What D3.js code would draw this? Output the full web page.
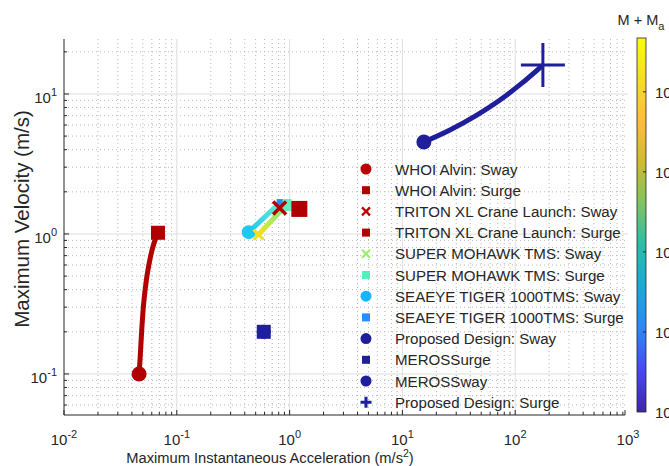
<!DOCTYPE html>
<html>
<head>
<meta charset="utf-8">
<script src="https://cdn.jsdelivr.net/npm/d3@7"></script>
<style>
  body { margin: 0; background: #fff; }
  text { font-family: "Liberation Sans", Arial, sans-serif; fill: #262626; }
</style>
</head>
<body>
<div id="chart"></div>
<script>
// ---- data ----
const xTickValues = [1e-2, 1e-1, 1e0, 1e1, 1e2, 1e3];
const yTickValues = [1e-1, 1e0, 1e1];
const cbTickValues = [1e2, 1e3, 1e4, 1e5, 1e6];

// WHOI Alvin curve (sway -> surge)
const alvinAcc = [0.0463, 0.0472, 0.0487, 0.0512, 0.0561, 0.0629, 0.0681];
const alvinVel = [0.100, 0.126, 0.196, 0.338, 0.581, 0.863, 1.02];

// Proposed design curve (sway -> surge)
const proposedAcc = [15.5, 26.4, 44.9, 73.3, 112.5, 176];
const proposedVel = [4.54, 5.53, 7.01, 9.06, 11.8, 16.1];

// SEAEYE TIGER and SUPER MOHAWK curves
const seaeyeAcc = [0.434, 0.80];
const seaeyeVel = [1.03, 1.64];
const mohawkAcc = [0.53, 0.90];
const mohawkVel = [0.99, 1.56];

// single points
const tritonSway = [0.815, 1.53];
const tritonSurge = [1.22, 1.51];
const mohawkSurge = [0.92, 1.61];
const seaeyeSurge = [0.815, 1.69];
const merosPoint = [0.59, 0.20];

const legendLabels = [
  "WHOI Alvin: Sway", "WHOI Alvin: Surge",
  "TRITON XL Crane Launch: Sway", "TRITON XL Crane Launch: Surge",
  "SUPER MOHAWK TMS: Sway", "SUPER MOHAWK TMS: Surge",
  "SEAEYE TIGER 1000TMS: Sway", "SEAEYE TIGER 1000TMS: Surge",
  "Proposed Design: Sway", "MEROSSurge", "MEROSSway", "Proposed Design: Surge"
];
const legendShapes = ["circle", "square", "x", "square", "x", "square",
  "circle", "square", "circle", "square", "circle", "plus"];
const legendColors = ["#b80000", "#b00000", "#c00000", "#b00000", "#9cf06c", "#50f0c0",
  "#19b4ff", "#2a8cff", "#1f1f9c", "#1f1f9c", "#1f1f9c", "#1f1f9c"];

const parula = ["#3e26a8", "#4748f4", "#2d87f5", "#1aa8d8", "#27bdaa", "#7cc461",
  "#cebb30", "#fdbd3c", "#f5dc2a", "#f9fb0e"];

const size = { width: 669, height: 466, left: 64, right: 628, top: 39, bottom: 415 };
const red = "#b00000", navy = "#1f1f9c";

const svg = d3.select("#chart").append("svg")
  .attr("width", size.width)
  .attr("height", size.height);

const x = d3.scaleLog().domain([1e-2, 1e3]).range([size.left, size.right]);
const y = d3.scaleLog().domain([0.0509, 24.7]).range([size.bottom, size.top]);

// ---- grid ----
const minorX = [], minorY = [];
for (let e = -2; e < 3; e++) for (let k = 2; k < 10; k++) minorX.push(k * Math.pow(10, e));
for (let e = -2; e < 2; e++) for (let k = 2; k < 10; k++) {
  const v = k * Math.pow(10, e);
  if (v > y.domain()[0] && v < y.domain()[1]) minorY.push(v);
}
const grid = svg.append("g");
grid.selectAll(".mx").data(minorX).join("line")
  .attr("x1", d => x(d)).attr("x2", d => x(d))
  .attr("y1", size.top).attr("y2", size.bottom)
  .attr("stroke", "#b8b8b8").attr("stroke-dasharray", "1,3");
grid.selectAll(".my").data(minorY).join("line")
  .attr("y1", d => y(d)).attr("y2", d => y(d))
  .attr("x1", size.left).attr("x2", size.right)
  .attr("stroke", "#b8b8b8").attr("stroke-dasharray", "1,3");
grid.selectAll(".gx").data(xTickValues.slice(1, -1)).join("line")
  .attr("x1", d => x(d)).attr("x2", d => x(d))
  .attr("y1", size.top).attr("y2", size.bottom)
  .attr("stroke", "#dedede");
grid.selectAll(".gy").data(yTickValues).join("line")
  .attr("y1", d => y(d)).attr("y2", d => y(d))
  .attr("x1", size.left).attr("x2", size.right)
  .attr("stroke", "#dedede");

// ---- axes (MATLAB style, ticks inside) ----
const axisColor = "#262626";
const ax = svg.append("g").attr("stroke", axisColor);
ax.append("line").attr("x1", size.left).attr("x2", size.right - 3)
  .attr("y1", size.bottom).attr("y2", size.bottom);
ax.append("line").attr("x1", size.left).attr("x2", size.left)
  .attr("y1", size.top).attr("y2", size.bottom);
ax.selectAll(".tx").data(xTickValues).join("line")
  .attr("x1", d => Math.min(x(d), size.right - 3)).attr("x2", d => Math.min(x(d), size.right - 3))
  .attr("y1", size.bottom).attr("y2", size.bottom - 5);
ax.selectAll(".mtx").data(minorX).join("line")
  .attr("x1", d => x(d)).attr("x2", d => x(d))
  .attr("y1", size.bottom).attr("y2", size.bottom - 3);
ax.selectAll(".ty").data(yTickValues).join("line")
  .attr("y1", d => y(d)).attr("y2", d => y(d))
  .attr("x1", size.left).attr("x2", size.left + 5);
ax.selectAll(".mty").data(minorY).join("line")
  .attr("y1", d => y(d)).attr("y2", d => y(d))
  .attr("x1", size.left).attr("x2", size.left + 3);

function powLabel(sel, d) {
  const e = Math.round(Math.log10(d));
  sel.append("tspan").text("10");
  sel.append("tspan").attr("dy", -7).attr("font-size", 11).text(e < 0 ? "-" + (-e) : e);
}
svg.selectAll(".xl").data(xTickValues).join("text")
  .attr("x", d => x(d)).attr("y", 445)
  .attr("text-anchor", "middle").attr("font-size", 15)
  .each(function (d) { powLabel(d3.select(this), d); });
svg.selectAll(".yl").data(yTickValues).join("text")
  .attr("x", 57).attr("y", d => y(d) + 9)
  .attr("text-anchor", "end").attr("font-size", 15)
  .each(function (d) { powLabel(d3.select(this), d); });

const xl = svg.append("text").attr("x", 270).attr("y", 463)
  .attr("text-anchor", "middle").attr("font-size", 14.7);
xl.append("tspan").text("Maximum Instantaneous Acceleration (m/s");
xl.append("tspan").attr("dy", -6).attr("font-size", 10.5).text("2");
xl.append("tspan").attr("dy", 6).text(")");
svg.append("text").attr("transform", "translate(29,219) rotate(-90)")
  .attr("text-anchor", "middle").attr("font-size", 20.5)
  .text("Maximum Velocity (m/s)");

// ---- curves ----
const pts = (a, b) => a.map((v, i) => [x(v), y(b[i])]);
const defs = svg.append("defs");
function grad(id, p0, p1, c0, c1) {
  const g = defs.append("linearGradient").attr("id", id)
    .attr("gradientUnits", "userSpaceOnUse")
    .attr("x1", p0[0]).attr("y1", p0[1]).attr("x2", p1[0]).attr("y2", p1[1]);
  g.append("stop").attr("offset", 0).attr("stop-color", c0);
  g.append("stop").attr("offset", 1).attr("stop-color", c1);
}
const plot = svg.append("g");
plot.append("path").attr("d", d3.line().curve(d3.curveMonotoneY)(pts(alvinAcc, alvinVel)))
  .attr("fill", "none").attr("stroke", red).attr("stroke-width", 5);
plot.append("path").attr("d", d3.line().curve(d3.curveMonotoneX)(pts(proposedAcc, proposedVel)))
  .attr("fill", "none").attr("stroke", navy).attr("stroke-width", 5);
const sp = pts(seaeyeAcc, seaeyeVel), mp = pts(mohawkAcc, mohawkVel);
grad("gSea", sp[0], sp[1], "#22c4f4", "#60ecd0");
grad("gMoh", mp[0], mp[1], "#f2e21c", "#70f090");
plot.append("path").attr("d", d3.line()(sp)).attr("fill", "none")
  .attr("stroke", "url(#gSea)").attr("stroke-width", 5);
plot.append("path").attr("d", d3.line()(mp)).attr("fill", "none")
  .attr("stroke", "url(#gMoh)").attr("stroke-width", 5);

function marker(g, shape, cx, cy, s, color, sw) {
  if (shape === "circle") {
    g.append("circle").attr("cx", cx).attr("cy", cy).attr("r", s / 2).attr("fill", color);
  } else if (shape === "square") {
    g.append("rect").attr("x", cx - s / 2).attr("y", cy - s / 2)
      .attr("width", s).attr("height", s).attr("fill", color);
  } else if (shape === "x") {
    const h = s / 2;
    g.append("path").attr("d", `M${cx - h},${cy - h}L${cx + h},${cy + h}M${cx - h},${cy + h}L${cx + h},${cy - h}`)
      .attr("stroke", color).attr("stroke-width", sw || 2.5).attr("fill", "none");
  } else if (shape === "plus") {
    const h = s / 2;
    g.append("path").attr("d", `M${cx - h},${cy}L${cx + h},${cy}M${cx},${cy - h}L${cx},${cy + h}`)
      .attr("stroke", color).attr("stroke-width", sw || 2.5).attr("fill", "none");
  }
}
const P = p => [x(p[0]), y(p[1])];
const last = a => a[a.length - 1];
marker(plot, "circle", x(alvinAcc[0]), y(alvinVel[0]), 15, red);
marker(plot, "square", x(last(alvinAcc)), y(last(alvinVel)), 14, red);
marker(plot, "circle", sp[0][0], sp[0][1], 14, "#1ec8f4");
marker(plot, "x", mp[0][0], mp[0][1], 10, "#f0e020", 3);
marker(plot, "square", ...P(mohawkSurge), 12, "#60f0c0");
marker(plot, "square", ...P(seaeyeSurge), 6, "#2a8cff");
marker(plot, "x", ...P(tritonSway), 13, red, 3.5);
marker(plot, "square", ...P(tritonSurge), 16, red);
marker(plot, "circle", ...P(merosPoint), 14, navy);
marker(plot, "square", ...P(merosPoint), 14, navy);
marker(plot, "circle", x(proposedAcc[0]), y(proposedVel[0]), 15, navy);
marker(plot, "plus", x(last(proposedAcc)), y(last(proposedVel)), 44, navy, 3);

// ---- legend ----
const leg = svg.append("g");
legendLabels.forEach((lab, i) => {
  const cy = 169 + i * 21.2;
  const sh = legendShapes[i];
  const s = sh === "circle" ? 11 : sh === "square" ? 8 : sh === "plus" ? 11 : 8;
  marker(leg, sh, 366, cy, s, legendColors[i], sh === "plus" ? 3 : 2.2);
  leg.append("text").attr("x", 395).attr("y", cy + 5.5).attr("font-size", 15.1).text(lab);
});

// ---- colorbar ----
const cb = { x: 637, w: 9, top: 38, bottom: 412 };
const cy = d3.scaleLog().domain([1e2, 4.7e6]).range([cb.bottom, cb.top]);
const cg = defs.append("linearGradient").attr("id", "parula")
  .attr("x1", 0).attr("y1", 1).attr("x2", 0).attr("y2", 0);
parula.forEach((c, i) => cg.append("stop").attr("offset", i / (parula.length - 1)).attr("stop-color", c));
svg.append("rect").attr("x", cb.x).attr("y", cb.top).attr("width", cb.w)
  .attr("height", cb.bottom - cb.top).attr("fill", "url(#parula)")
  .attr("stroke", axisColor).attr("stroke-width", 0.8);
svg.selectAll(".cbt").data(cbTickValues.slice(1)).join("line")
  .attr("x1", cb.x + cb.w).attr("x2", cb.x + cb.w - 3)
  .attr("y1", d => cy(d)).attr("y2", d => cy(d)).attr("stroke", axisColor);
svg.selectAll(".cbl").data(cbTickValues).join("text")
  .attr("x", 655).attr("y", d => cy(d) + 6).attr("font-size", 15)
  .each(function (d) { powLabel(d3.select(this), d); });
const ct = svg.append("text").attr("x", 641).attr("y", 25)
  .attr("text-anchor", "middle").attr("font-size", 14.5);
ct.append("tspan").text("M + M");
ct.append("tspan").attr("dy", 5).attr("font-size", 11).text("a");
</script>
</body>
</html>
